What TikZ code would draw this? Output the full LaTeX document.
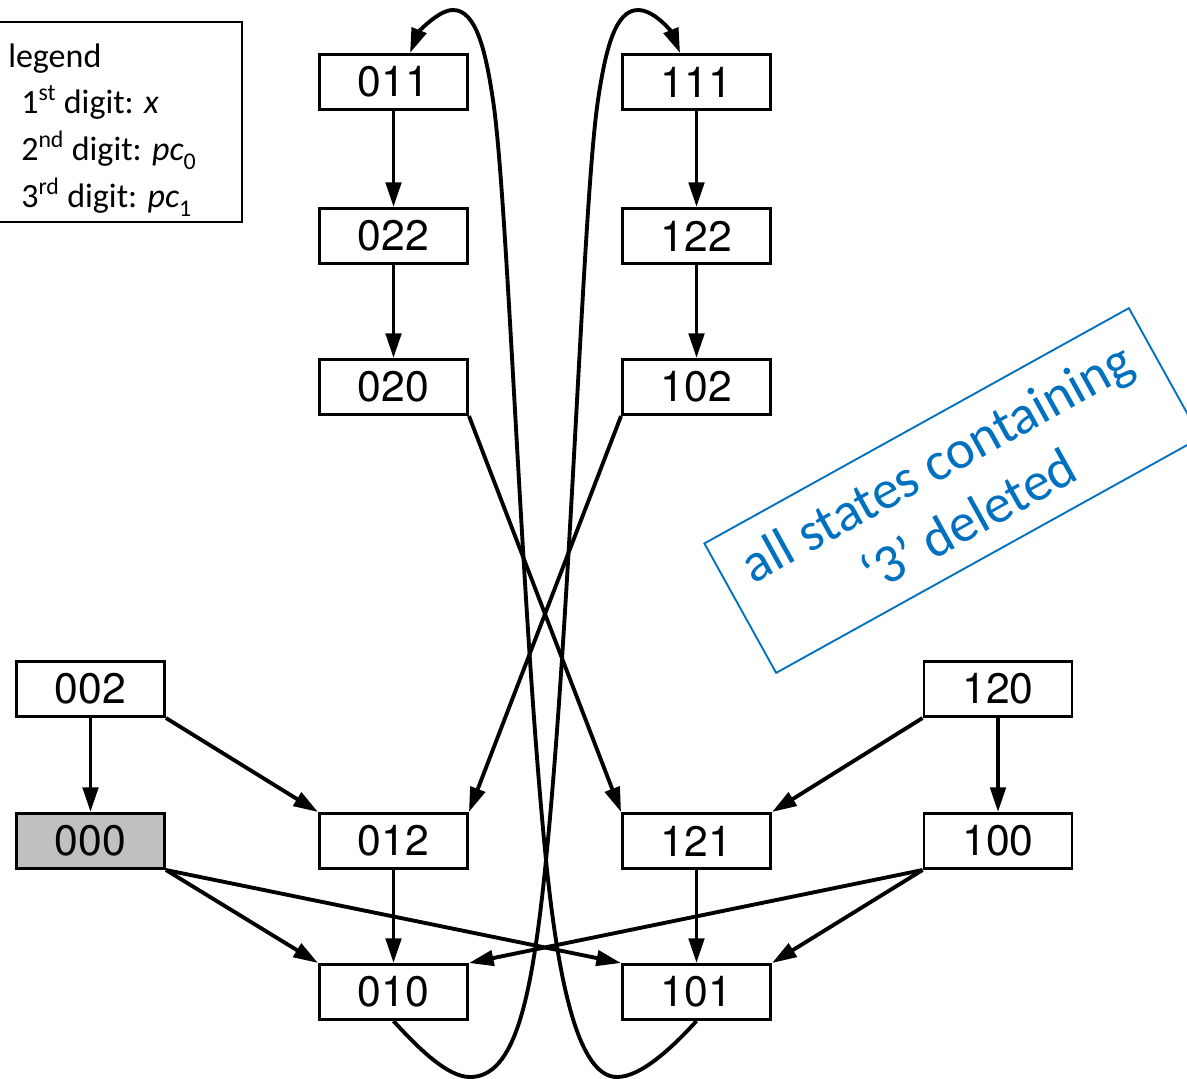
\documentclass[tikz,border=0pt]{standalone}
\usepackage{fontspec}
\setmainfont{TeX Gyre Heros}
\newfontfamily\calfont{Carlito}
\usetikzlibrary{arrows.meta,calc}
\definecolor{noteblue}{HTML}{0070C0}
\definecolor{startgray}{HTML}{C0C0C0}

\begin{document}
\begin{tikzpicture}[x=0.75pt,y=-0.75pt,
  state/.style={draw, line width=2.2pt, minimum width=111pt, minimum height=41.3pt,
    inner sep=0pt, font=\fontsize{32}{36}\selectfont},
  edge/.style={line width=2.9pt, -{Triangle[length=18.5pt,width=11.5pt]}},
  legtext/.style={anchor=base west, inner sep=0pt, font=\calfont\fontsize{25.5}{30}\selectfont},
]
\useasboundingbox (0,0) rectangle (1187,1078);

% legend
\draw[line width=1.5pt] (-5,22) rectangle (242,222);
\node[legtext] (legT) at (8,67) {legend};
\node[legtext] (leg1) at (21,113) {1\textsuperscript{st} digit: \textit{x}};
\node[legtext] (leg2) at (21,160) {2\textsuperscript{nd} digit: \textit{pc}\raisebox{-0.28em}{\fontsize{18}{20}\selectfont 0}};
\node[legtext] (leg3) at (21,207) {3\textsuperscript{rd} digit: \textit{pc}\raisebox{-0.28em}{\fontsize{18}{20}\selectfont 1}};

% states
\node[state] (n011) at (393.5,82) {011};
\node[state] (n111) at (696.5,82) {111};
\node[state] (n022) at (393.5,236) {022};
\node[state] (n122) at (696.5,236) {122};
\node[state] (n020) at (393.5,387) {020};
\node[state] (n102) at (696.5,387) {102};
\node[state] (n002) at (90.5,689) {002};
\node[state] (n120) at (998,689) {120};
\node[state, fill=startgray] (n000) at (90.5,841) {000};
\node[state] (n012) at (393.5,841) {012};
\node[state] (n121) at (696.5,841) {121};
\node[state] (n100) at (998,841) {100};
\node[state] (n010) at (393.5,992) {010};
\node[state] (n101) at (696.5,992) {101};

% deleted-states note
\node[draw=noteblue, line width=1.4pt, rotate=29, minimum width=364pt, minimum height=111pt,
  text=noteblue, align=center, font=\calfont\fontsize{41}{49.5}\selectfont]
  (note) at (952.5,490.5) {all states containing\\‘3’ deleted};

% straight transitions
\draw[edge] (n011.south) -- (n022.north);
\draw[edge] (n022.south) -- (n020.north);
\draw[edge] (n111.south) -- (n122.north);
\draw[edge] (n122.south) -- (n102.north);
\draw[edge] (n002.south) -- (n000.north);
\draw[edge] (n120.south) -- (n100.north);
\draw[edge] (n012.south) -- (n010.north);
\draw[edge] (n121.south) -- (n101.north);
\draw[edge] (n020.south east) -- (n121.north west);
\draw[edge] (n102.south west) -- (n012.north east);
\draw[edge] (n002.south east) -- (n012.north west);
\draw[edge] (n120.south west) -- (n121.north east);
\draw[edge] (n000.south east) -- (n010.north west);
\draw[edge] (n000.south east) -- (n101.north west);
\draw[edge] (n100.south west) -- (n010.north east);
\draw[edge] (n100.south west) -- (n101.north east);

% long looping transitions (under the bottom row, up the middle, over the top row)
\coordinate (t011) at ($(n011.north west)+(92,0)$);
\coordinate (t111) at ($(n111.north west)+(59,0)$);
\draw[edge] (n010.south) .. controls (420,1050) and (448,1077) .. (470,1077)
  .. controls (515,1077) and (532,1000) .. (546,860)
  .. controls (571,610) and (583,200) .. (598,100)
  .. controls (605.5,50) and (615,10) .. (638,10)
  .. controls (655,10) and (672,33) .. (t111);
\draw[edge] (n101.south) .. controls (670,1050) and (640,1077) .. (617,1077)
  .. controls (582,1077) and (560,1000) .. (546,860)
  .. controls (521,610) and (508,200) .. (493,100)
  .. controls (485.5,50) and (476,10) .. (453,10)
  .. controls (438,10) and (418,33) .. (t011);
\end{tikzpicture}
\end{document}
